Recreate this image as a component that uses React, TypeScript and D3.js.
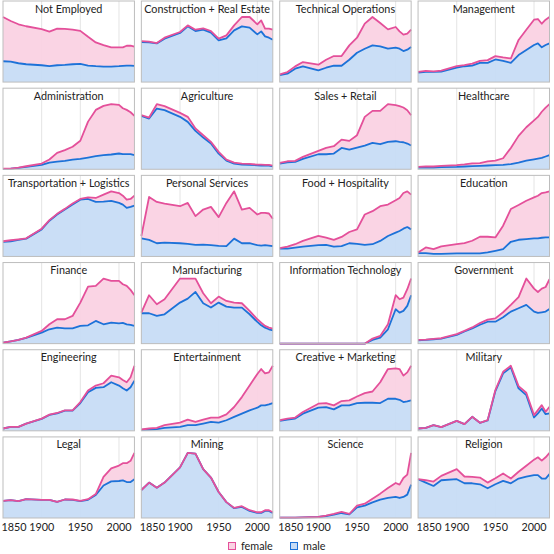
import { useEffect, useRef } from "react";
import * as d3 from "d3";

const W = 554;
const H = 554;

const years = [1850, 1860, 1870, 1880, 1900, 1910, 1920, 1930, 1940, 1950, 1960, 1970, 1980, 1990, 2000, 2005, 2010, 2015, 2020];
const tickYears = [1850, 1900, 1950, 2000];

const categories = [
  "Not Employed", "Construction + Real Estate", "Technical Operations", "Management",
  "Administration", "Agriculture", "Sales + Retail", "Healthcare",
  "Transportation + Logistics", "Personal Services", "Food + Hospitality", "Education",
  "Finance", "Manufacturing", "Information Technology", "Government",
  "Engineering", "Entertainment", "Creative + Marketing", "Military",
  "Legal", "Mining", "Science", "Religion",
];

// relative employment (each panel has its own scale)
const male: number[][] = [
  [63, 62, 57, 54, 51, 48, 51, 52, 54, 55, 50, 48, 47, 47, 48, 49, 50, 50, 49],
  [120, 119, 116, 130, 147, 167, 153, 157, 148, 125, 131, 155, 167, 163, 143, 152, 137, 133, 127],
  [21, 25, 40, 47, 35, 43, 49, 49, 67, 88, 100, 110, 107, 100, 103, 100, 93, 97, 105],
  [28, 30, 30, 31, 43, 47, 49, 57, 57, 67, 63, 57, 80, 95, 110, 115, 103, 110, 115],
  [1, 2, 4, 7, 13, 20, 23, 25, 29, 31, 35, 39, 42, 44, 47, 45, 45, 45, 42],
  [160, 152, 182, 177, 157, 142, 115, 95, 77, 47, 26, 17, 14, 13, 12, 11, 11, 11, 9],
  [17, 21, 22, 31, 45, 45, 47, 64, 59, 65, 71, 79, 75, 82, 84, 82, 81, 77, 71],
  [5, 5, 5, 6, 7, 8, 9, 10, 11, 12, 13, 15, 19, 25, 29, 31, 33, 37, 41],
  [44, 46, 50, 54, 82, 108, 127, 142, 157, 172, 174, 165, 166, 168, 162, 157, 147, 150, 154],
  [55, 50, 40, 42, 40, 38, 35, 36, 34, 32, 31, 54, 40, 40, 34, 33, 34, 33, 31],
  [24, 24, 27, 30, 34, 35, 30, 31, 40, 38, 35, 37, 47, 62, 72, 77, 84, 89, 82],
  [10, 10, 8, 8, 9, 9, 9, 9, 12, 17, 22, 44, 50, 52, 54, 54, 56, 57, 57],
  [3, 7, 11, 17, 33, 43, 48, 46, 46, 53, 55, 68, 58, 63, 61, 62, 58, 56, 53],
  [91, 91, 83, 88, 123, 135, 155, 121, 108, 123, 111, 108, 108, 88, 65, 55, 48, 43, 40],
  [0, 0, 0, 0, 0, 0, 0, 0, 0, 0, 0, 11, 18, 43, 103, 93, 98, 113, 145],
  [10, 11, 13, 15, 26, 36, 45, 56, 65, 65, 78, 95, 105, 115, 95, 91, 93, 95, 103],
  [7, 12, 12, 22, 36, 48, 53, 61, 61, 84, 117, 130, 132, 147, 137, 129, 122, 132, 152],
  [3, 4, 5, 9, 12, 17, 17, 22, 27, 25, 32, 42, 52, 62, 70, 77, 77, 80, 84],
  [30, 34, 37, 52, 70, 72, 65, 77, 77, 84, 85, 85, 84, 97, 97, 94, 87, 89, 92],
  [7, 9, 17, 11, 30, 20, 42, 24, 31, 119, 172, 190, 127, 107, 40, 52, 67, 50, 52],
  [50, 52, 49, 55, 53, 53, 47, 54, 53, 49, 53, 67, 95, 107, 108, 110, 105, 105, 113],
  [83, 105, 90, 105, 150, 193, 191, 145, 120, 77, 47, 29, 33, 21, 15, 15, 21, 21, 15],
  [1, 1, 1, 2, 3, 6, 10, 15, 11, 32, 37, 47, 55, 60, 63, 60, 63, 70, 100],
  [115, 105, 95, 112, 115, 103, 103, 100, 88, 100, 110, 103, 117, 123, 127, 127, 117, 117, 130],
];

const female: number[][] = [
  [134, 123, 118, 115, 109, 105, 111, 109, 105, 100, 87, 72, 65, 58, 57, 56, 60, 60, 58],
  [3, 2, 1, 3, 3, 3, 4, 4, 5, 5, 9, 15, 28, 32, 30, 33, 23, 27, 30],
  [2, 5, 7, 13, 17, 24, 29, 29, 43, 45, 75, 85, 70, 58, 62, 52, 49, 48, 52],
  [2, 3, 2, 3, 4, 3, 6, 6, 8, 10, 10, 13, 45, 60, 75, 72, 70, 75, 78],
  [1, 0, 1, 2, 4, 9, 26, 32, 38, 54, 107, 138, 147, 150, 145, 137, 132, 125, 117],
  [2, 3, 13, 12, 12, 15, 7, 7, 5, 5, 3, 3, 3, 3, 2, 3, 2, 2, 2],
  [2, 3, 3, 6, 10, 19, 22, 25, 26, 37, 86, 96, 100, 113, 108, 107, 104, 100, 91],
  [2, 3, 3, 4, 5, 6, 8, 8, 12, 13, 19, 47, 78, 97, 113, 121, 134, 142, 148],
  [2, 3, 2, 1, 2, 2, 2, 2, 3, 2, 5, 12, 21, 29, 30, 27, 25, 24, 30],
  [7, 130, 125, 118, 112, 124, 87, 106, 116, 87, 131, 143, 102, 107, 93, 99, 98, 97, 83],
  [1, 6, 10, 17, 28, 22, 20, 28, 34, 44, 92, 100, 105, 95, 98, 100, 108, 108, 105],
  [2, 17, 14, 22, 28, 31, 38, 50, 47, 40, 70, 98, 104, 115, 123, 128, 134, 135, 138],
  [0, 0, 0, 1, 5, 15, 25, 27, 37, 70, 116, 105, 137, 125, 127, 116, 115, 105, 92],
  [2, 54, 35, 45, 72, 60, 40, 30, 13, 18, 17, 15, 13, 10, 8, 8, 5, 5, 5],
  [0, 0, 0, 0, 0, 0, 0, 0, 0, 0, 0, 4, 5, 15, 42, 40, 40, 50, 50],
  [1, 1, 1, 1, 2, 2, 3, 5, 6, 10, 15, 20, 33, 78, 68, 62, 70, 73, 88],
  [0, 0, 0, 0, 1, 1, 1, 1, 1, 3, 5, 7, 12, 20, 25, 25, 25, 30, 45],
  [1, 3, 4, 8, 13, 17, 10, 12, 13, 15, 18, 30, 50, 75, 102, 110, 97, 97, 113],
  [2, 3, 3, 5, 12, 12, 12, 13, 15, 20, 29, 34, 63, 90, 92, 93, 80, 88, 105],
  [0, 0, 0, 0, 0, 0, 0, 0, 1, 3, 5, 5, 7, 7, 7, 10, 10, 7, 20],
  [0, 0, 0, 0, 0, 0, 0, 0, 1, 1, 2, 3, 25, 38, 45, 50, 55, 62, 77],
  [0, 0, 0, 0, 0, 0, 0, 0, 0, 0, 0, 1, 2, 2, 2, 2, 2, 2, 2],
  [0, 0, 0, 0, 0, 1, 2, 3, 1, 5, 6, 11, 18, 30, 42, 40, 57, 60, 95],
  [0, 7, 13, 13, 30, 20, 19, 20, 17, 18, 22, 14, 20, 32, 46, 53, 53, 63, 63],
];

const sexes = ["female", "male"];
const fills: Record<string, string> = { male: "#c7dcf5", female: "#fad2e3" };
const strokes: Record<string, string> = { male: "#1d72d8", female: "#e4509a" };

const FONT = "Lato, 'Noto Sans', sans-serif";

export default function App() {
  const ref = useRef<SVGSVGElement | null>(null);

  useEffect(() => {
    if (!ref.current) return;
    const svg = d3.select(ref.current);
    svg.selectAll("*").remove();

    const col = d3.scaleBand<number>().domain([0, 1, 2, 3]).range([3, 549.5]).paddingInner(0.05);
    const row = d3.scaleBand<number>().domain([0, 1, 2, 3, 4, 5]).range([1, 518]).paddingInner(0.07);

    categories.forEach((name, i) => {
      const c = i % 4;
      const r = Math.floor(i / 4);
      const left = col(c)!;
      const top = row(r)!;
      const w = col.bandwidth();
      const h = row.bandwidth();

      const rows = years.map((yr, j) => ({ year: yr, male: male[i][j], female: female[i][j] }));
      const series = d3.stack<any>().keys(["male", "female"])(rows);
      const maxTotal = d3.max(rows, (d) => d.male + d.female)!;

      const x = d3.scaleLinear().domain([1850, 2020]).range([left, left + w]);
      const y = d3.scaleLinear().domain([0, maxTotal]).range([top + h, top + 16]);

      const g = svg.append("g");

      g.append("rect")
        .attr("x", left)
        .attr("y", top)
        .attr("width", w)
        .attr("height", h)
        .attr("fill", "#fff");

      g.selectAll("line.grid")
        .data(tickYears.slice(1))
        .join("line")
        .attr("x1", (d) => x(d))
        .attr("x2", (d) => x(d))
        .attr("y1", top)
        .attr("y2", top + h)
        .attr("stroke", "#e4e4e4")
        .attr("stroke-width", 1);

      const area = d3
        .area<any>()
        .x((d) => x(d.data.year))
        .y0((d) => y(d[0]))
        .y1((d) => y(d[1]));

      const line = d3
        .line<any>()
        .x((d) => x(d.data.year))
        .y((d) => y(d[1]));

      g.selectAll("path.area")
        .data(series)
        .join("path")
        .attr("d", (s) => area(s)!)
        .attr("fill", (s) => fills[s.key])
        .attr("opacity", 0.95);

      g.selectAll("path.line")
        .data(series)
        .join("path")
        .attr("d", (s) => line(s)!)
        .attr("fill", "none")
        .attr("stroke", (s) => strokes[s.key])
        .attr("stroke-width", 1.8)
        .attr("stroke-linejoin", "round");

      g.append("rect")
        .attr("x", left)
        .attr("y", top)
        .attr("width", w)
        .attr("height", h)
        .attr("fill", "none")
        .attr("stroke", "#bdbdbd")
        .attr("stroke-width", 1);

      g.append("text")
        .attr("x", left + w / 2)
        .attr("y", top + 11.5)
        .attr("text-anchor", "middle")
        .attr("font-family", FONT)
        .attr("font-size", 10.8)
        .attr("fill", "#222")
        .text(name);

      if (r === 5) {
        g.selectAll("text.tick")
          .data(tickYears)
          .join("text")
          .attr("x", (d, k) => (k === 0 ? left - 1.5 : x(d)))
          .attr("y", top + h + 13)
          .attr("text-anchor", (d, k) => (k === 0 ? "start" : "middle"))
          .attr("font-family", FONT)
          .attr("font-size", 10.8)
          .attr("fill", "#222")
          .text((d) => d);
      }
    });

    // legend
    const legendX = d3.scaleOrdinal<string, number>().domain(sexes).range([228.5, 290.5]);
    const lg = svg.append("g");
    sexes.forEach((s) => {
      lg.append("rect")
        .attr("x", legendX(s))
        .attr("y", 542.5)
        .attr("width", 7)
        .attr("height", 7)
        .attr("fill", fills[s])
        .attr("stroke", strokes[s])
        .attr("stroke-width", 1);
      lg.append("text")
        .attr("x", legendX(s) + 12.5)
        .attr("y", 549.5)
        .attr("font-family", FONT)
        .attr("font-size", 10.8)
        .attr("fill", "#222")
        .text(s);
    });
  }, []);

  return (
    <svg
      ref={ref}
      width={W}
      height={H}
      style={{ position: "absolute", left: 0, top: 0, background: "#fff" }}
    />
  );
}
